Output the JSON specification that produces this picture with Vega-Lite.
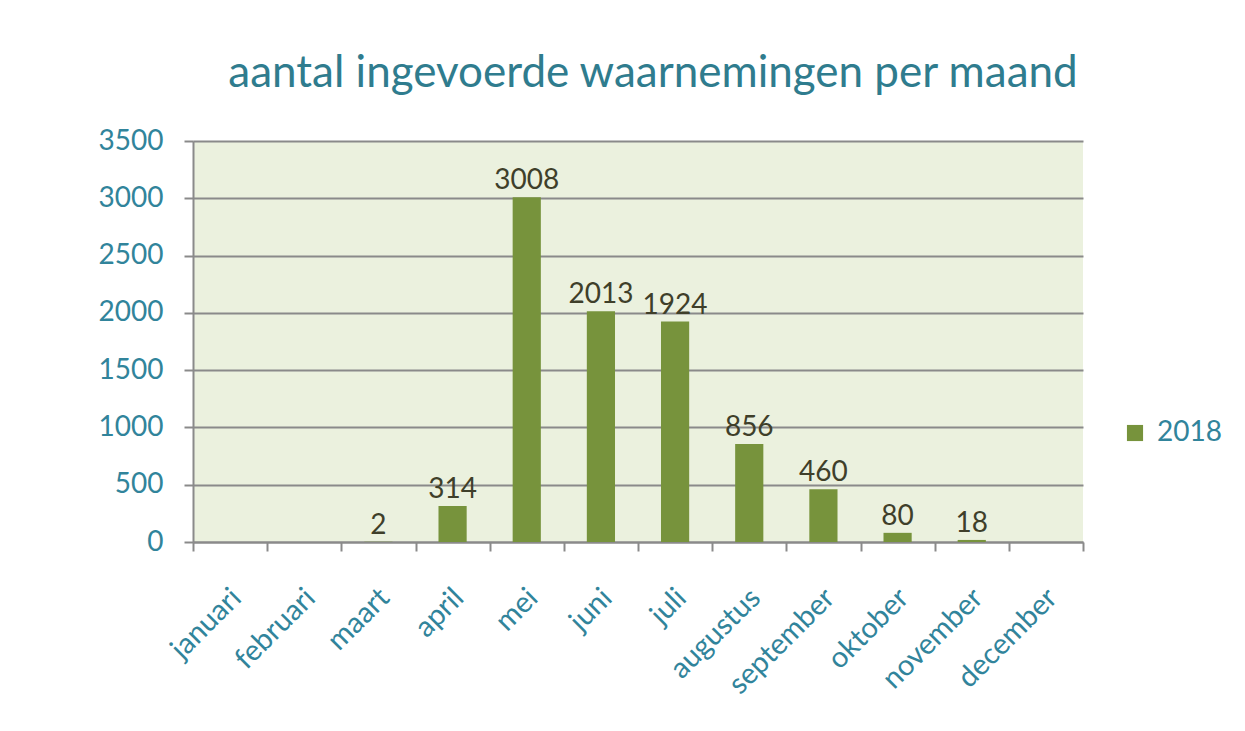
{
  "$schema": "https://vega.github.io/schema/vega-lite/v6.json",
  "autosize": "none",
  "width": 890,
  "height": 401,
  "padding": {"left": 193, "top": 141, "right": 162, "bottom": 189},
  "background": "white",
  "title": {
    "text": "aantal ingevoerde waarnemingen per maand",
    "font": "Lato",
    "fontSize": 44,
    "fontWeight": "normal",
    "color": "#2f7c8e",
    "anchor": "middle",
    "baseline": "alphabetic",
    "offset": -4,
    "dx": 15
  },
  "config": {
    "view": {"stroke": null, "fill": "#ebf1de"},
    "font": "Lato"
  },
  "data": {
    "values": [
      {"maand": "maart", "jaar": "2018", "aantal": 2},
      {"maand": "april", "jaar": "2018", "aantal": 314},
      {"maand": "mei", "jaar": "2018", "aantal": 3008},
      {"maand": "juni", "jaar": "2018", "aantal": 2013},
      {"maand": "juli", "jaar": "2018", "aantal": 1924},
      {"maand": "augustus", "jaar": "2018", "aantal": 856},
      {"maand": "september", "jaar": "2018", "aantal": 460},
      {"maand": "oktober", "jaar": "2018", "aantal": 80},
      {"maand": "november", "jaar": "2018", "aantal": 18}
    ]
  },
  "encoding": {
    "x": {
      "field": "maand",
      "type": "nominal",
      "scale": {
        "domain": ["januari", "februari", "maart", "april", "mei", "juni", "juli", "augustus", "september", "oktober", "november", "december"],
        "paddingInner": 0,
        "paddingOuter": 0
      },
      "axis": {
        "title": null,
        "labelAngle": -45,
        "labelFont": "Lato",
        "labelFontSize": 29,
        "labelColor": "#31849b",
        "labelPadding": 32,
        "labelOffset": -4,
        "tickBand": "extent",
        "tickSize": 9,
        "tickWidth": 2,
        "tickColor": "#8a8a8a",
        "domainColor": "#8a8a8a",
        "domainWidth": 2,
        "grid": false
      }
    },
    "y": {
      "field": "aantal",
      "type": "quantitative",
      "scale": {"domain": [0, 3500], "nice": false},
      "axis": {
        "title": null,
        "format": "d",
        "values": [0, 500, 1000, 1500, 2000, 2500, 3000, 3500],
        "labelFont": "Lato",
        "labelFontSize": 28,
        "labelColor": "#31849b",
        "labelPadding": 21,
        "tickSize": 9,
        "tickWidth": 2,
        "tickColor": "#8a8a8a",
        "domainColor": "#8a8a8a",
        "domainWidth": 2,
        "grid": true,
        "gridColor": "#8a8a8a",
        "gridWidth": 2,
        "gridOpacity": 1
      }
    }
  },
  "layer": [
    {
      "mark": {"type": "bar", "width": {"band": 0.38}},
      "encoding": {
        "color": {
          "field": "jaar",
          "type": "nominal",
          "scale": {"range": ["#77933c"]},
          "legend": {
            "title": null,
            "orient": "none",
            "legendX": 928,
            "legendY": 278,
            "symbolType": "square",
            "symbolSize": 260,
            "symbolStrokeWidth": 0,
            "symbolOpacity": 1,
            "labelFont": "Lato",
            "labelFontSize": 28,
            "labelColor": "#31849b",
            "labelOffset": 8
          }
        }
      }
    },
    {
      "mark": {
        "type": "text",
        "baseline": "bottom",
        "dy": -2,
        "font": "Lato",
        "fontSize": 28,
        "color": "#3f3f2a"
      },
      "encoding": {
        "text": {"field": "aantal", "type": "quantitative", "format": "d"}
      }
    }
  ]
}
